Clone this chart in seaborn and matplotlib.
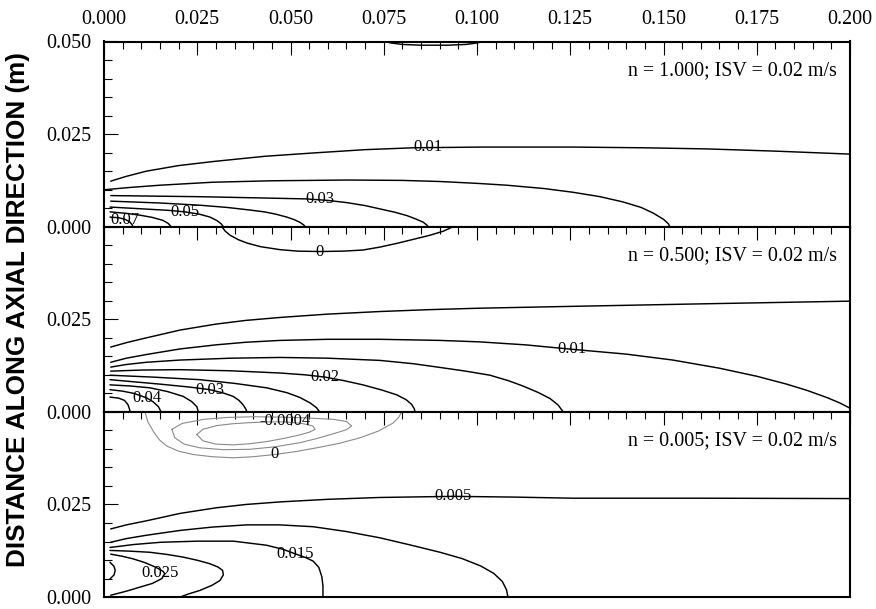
import matplotlib
matplotlib.use("Agg")
import matplotlib.pyplot as plt
import seaborn as sns
from matplotlib.ticker import MultipleLocator, FixedLocator, FixedFormatter

# ---------------- data ----------------
# Panel 1: n = 1.000
p1_c010_x = [0.0018, 0.0060, 0.0114, 0.0200, 0.0293, 0.0430, 0.0560, 0.0700, 0.0828, 0.1008, 0.1257, 0.1450, 0.1617, 0.1800, 0.2000]
p1_c010_y = [0.0123, 0.0136, 0.0150, 0.0165, 0.0176, 0.0190, 0.0199, 0.0208, 0.0213, 0.0215, 0.0215, 0.0213, 0.0210, 0.0204, 0.0196]
p1_c020_x = [0.0003, 0.0070, 0.0150, 0.0290, 0.0450, 0.0654, 0.0800, 0.0901, 0.1000, 0.1080, 0.1180, 0.1257, 0.1330, 0.1391, 0.1440, 0.1472, 0.1500, 0.1513, 0.1517]
p1_c020_y = [0.0100, 0.0106, 0.0112, 0.0120, 0.0124, 0.0126, 0.0125, 0.0122, 0.0117, 0.0112, 0.0103, 0.0093, 0.0081, 0.0067, 0.0052, 0.0037, 0.0020, 0.0008, 0.0000]
p1_c030_x = [0.0018, 0.0257, 0.0450, 0.0543, 0.0600, 0.0651, 0.0700, 0.0740, 0.0780, 0.0812, 0.0838, 0.0856, 0.0866, 0.0869]
p1_c030_y = [0.0084, 0.0081, 0.0077, 0.0075, 0.0071, 0.0065, 0.0057, 0.0048, 0.0039, 0.0030, 0.0020, 0.0012, 0.0004, 0.0000]
p1_c040_x = [0.0018, 0.0150, 0.0257, 0.0330, 0.0391, 0.0430, 0.0460, 0.0490, 0.0510, 0.0525, 0.0535, 0.0540]
p1_c040_y = [0.0069, 0.0064, 0.0058, 0.0052, 0.0045, 0.0040, 0.0034, 0.0026, 0.0019, 0.0012, 0.0005, 0.0000]
p1_c050_x = [0.0016, 0.0070, 0.0123, 0.0175, 0.0217, 0.0255, 0.0284, 0.0302, 0.0314, 0.0320]
p1_c050_y = [0.0053, 0.0050, 0.0047, 0.0044, 0.0040, 0.0034, 0.0026, 0.0017, 0.0008, 0.0000]
p1_c060_x = [0.0016, 0.0060, 0.0097, 0.0130, 0.0158, 0.0172, 0.0180]
p1_c060_y = [0.0040, 0.0036, 0.0031, 0.0025, 0.0017, 0.0009, 0.0000]
p1_c070_x = [0.0016, 0.0040, 0.0056, 0.0068, 0.0075, 0.0078]
p1_c070_y = [0.0026, 0.0024, 0.0020, 0.0014, 0.0006, 0.0000]
p1_c000_x = [0.0751, 0.0770, 0.0800, 0.0850, 0.0920, 0.0970, 0.1000, 0.1016]
p1_c000_y = [0.0500, 0.0496, 0.0492, 0.0490, 0.0490, 0.0492, 0.0496, 0.0500]
p1_labels = ["0.01", "0.03", "0.05", "0.07"]
p1_label_x = [0.0869, 0.0579, 0.0217, 0.0056]
p1_label_y = [0.0215, 0.0074, 0.0040, 0.0017]

# Panel 2: n = 0.500
p2_c000_x = [0.0316, 0.0325, 0.0338, 0.0360, 0.0383, 0.0420, 0.0472, 0.0520, 0.0579, 0.0640, 0.0694, 0.0740, 0.0785, 0.0830, 0.0874, 0.0910, 0.0936]
p2_c000_y = [0.0500, 0.0488, 0.0477, 0.0465, 0.0456, 0.0446, 0.0438, 0.0434, 0.0433, 0.0434, 0.0437, 0.0445, 0.0455, 0.0466, 0.0477, 0.0488, 0.0500]
p2_c005_x = [0.0018, 0.0060, 0.0114, 0.0204, 0.0300, 0.0380, 0.0472, 0.0600, 0.0740, 0.0870, 0.1008, 0.1257, 0.1617, 0.2000]
p2_c005_y = [0.0175, 0.0187, 0.0200, 0.0221, 0.0237, 0.0247, 0.0255, 0.0264, 0.0271, 0.0276, 0.0280, 0.0285, 0.0292, 0.0299]
p2_c010_x = [0.0018, 0.0060, 0.0114, 0.0204, 0.0300, 0.0380, 0.0472, 0.0600, 0.0740, 0.0901, 0.1008, 0.1130, 0.1255, 0.1400, 0.1525, 0.1650, 0.1751, 0.1830, 0.1885, 0.1940, 0.1973, 0.2000]
p2_c010_y = [0.0134, 0.0145, 0.0155, 0.0170, 0.0181, 0.0188, 0.0193, 0.0196, 0.0196, 0.0193, 0.0189, 0.0181, 0.0169, 0.0156, 0.0140, 0.0118, 0.0096, 0.0075, 0.0058, 0.0038, 0.0024, 0.0010]
p2_c015_x = [0.0018, 0.0060, 0.0114, 0.0204, 0.0340, 0.0472, 0.0600, 0.0740, 0.0830, 0.0901, 0.0970, 0.1035, 0.1085, 0.1123, 0.1165, 0.1196, 0.1218, 0.1231]
p2_c015_y = [0.0121, 0.0128, 0.0134, 0.0140, 0.0145, 0.0147, 0.0145, 0.0139, 0.0130, 0.0120, 0.0110, 0.0099, 0.0084, 0.0070, 0.0052, 0.0036, 0.0018, 0.0000]
p2_c020_x = [0.0018, 0.0100, 0.0204, 0.0340, 0.0472, 0.0540, 0.0592, 0.0645, 0.0694, 0.0745, 0.0785, 0.0810, 0.0825, 0.0832, 0.0834]
p2_c020_y = [0.0110, 0.0113, 0.0114, 0.0111, 0.0105, 0.0100, 0.0094, 0.0084, 0.0073, 0.0059, 0.0046, 0.0033, 0.0020, 0.0008, 0.0000]
p2_c025_x = [0.0016, 0.0130, 0.0257, 0.0350, 0.0436, 0.0490, 0.0525, 0.0553, 0.0570, 0.0578]
p2_c025_y = [0.0099, 0.0094, 0.0087, 0.0077, 0.0065, 0.0052, 0.0039, 0.0024, 0.0011, 0.0000]
p2_c030_x = [0.0016, 0.0150, 0.0230, 0.0284, 0.0320, 0.0346, 0.0362, 0.0373, 0.0380, 0.0383]
p2_c030_y = [0.0087, 0.0075, 0.0067, 0.0060, 0.0051, 0.0042, 0.0031, 0.0019, 0.0008, 0.0000]
p2_c035_x = [0.0016, 0.0070, 0.0123, 0.0170, 0.0212, 0.0235, 0.0249, 0.0253]
p2_c035_y = [0.0073, 0.0070, 0.0065, 0.0055, 0.0042, 0.0028, 0.0014, 0.0000]
p2_c040_x = [0.0016, 0.0050, 0.0080, 0.0114, 0.0132, 0.0146, 0.0153]
p2_c040_y = [0.0060, 0.0056, 0.0050, 0.0038, 0.0027, 0.0014, 0.0000]
p2_c045_x = [0.0016, 0.0040, 0.0055, 0.0064, 0.0068, 0.0070]
p2_c045_y = [0.0040, 0.0037, 0.0031, 0.0020, 0.0009, 0.0000]
p2_labels = ["0", "0.01", "0.02", "0.03", "0.04"]
p2_label_x = [0.0579, 0.1254, 0.0592, 0.0284, 0.0114]
p2_label_y = [0.0432, 0.0169, 0.0094, 0.0060, 0.0038]

# Panel 3: n = 0.005
p3_g000_x = [0.0110, 0.0118, 0.0132, 0.0148, 0.0168, 0.0200, 0.0239, 0.0290, 0.0346, 0.0400, 0.0458, 0.0515, 0.0570, 0.0630, 0.0686, 0.0735, 0.0775, 0.0790, 0.0798]
p3_g000_y = [0.0500, 0.0472, 0.0448, 0.0425, 0.0408, 0.0394, 0.0385, 0.0379, 0.0376, 0.0379, 0.0385, 0.0393, 0.0403, 0.0415, 0.0430, 0.0448, 0.0470, 0.0485, 0.0500]
p3_g002_x = [0.0182, 0.0210, 0.0268, 0.0330, 0.0402, 0.0470, 0.0536, 0.0615, 0.0650, 0.0664, 0.0650, 0.0615, 0.0570, 0.0526, 0.0460, 0.0391, 0.0320, 0.0257, 0.0215, 0.0190, 0.0182]
p3_g002_y = [0.0453, 0.0469, 0.0480, 0.0485, 0.0487, 0.0486, 0.0484, 0.0480, 0.0474, 0.0462, 0.0452, 0.0441, 0.0428, 0.0417, 0.0406, 0.0399, 0.0398, 0.0403, 0.0413, 0.0430, 0.0453]
p3_g004_x = [0.0249, 0.0265, 0.0302, 0.0345, 0.0391, 0.0440, 0.0485, 0.0530, 0.0560, 0.0566, 0.0550, 0.0525, 0.0485, 0.0437, 0.0390, 0.0347, 0.0300, 0.0265, 0.0249]
p3_g004_y = [0.0439, 0.0453, 0.0463, 0.0468, 0.0471, 0.0473, 0.0473, 0.0469, 0.0462, 0.0453, 0.0445, 0.0438, 0.0429, 0.0420, 0.0414, 0.0411, 0.0413, 0.0422, 0.0439]
p3_c005_x = [0.0018, 0.0060, 0.0114, 0.0204, 0.0300, 0.0380, 0.0472, 0.0600, 0.0740, 0.0936, 0.1100, 0.1257, 0.1617, 0.2000]
p3_c005_y = [0.0184, 0.0195, 0.0206, 0.0226, 0.0241, 0.0250, 0.0257, 0.0264, 0.0269, 0.0272, 0.0270, 0.0267, 0.0267, 0.0266]
p3_c010_x = [0.0018, 0.0060, 0.0114, 0.0204, 0.0290, 0.0383, 0.0470, 0.0561, 0.0650, 0.0740, 0.0820, 0.0901, 0.0960, 0.1010, 0.1045, 0.1068, 0.1079, 0.1083]
p3_c010_y = [0.0148, 0.0158, 0.0167, 0.0180, 0.0189, 0.0195, 0.0195, 0.0190, 0.0177, 0.0160, 0.0141, 0.0121, 0.0104, 0.0084, 0.0064, 0.0042, 0.0020, 0.0000]
p3_c015_x = [0.0016, 0.0080, 0.0152, 0.0250, 0.0347, 0.0436, 0.0480, 0.0512, 0.0540, 0.0561, 0.0576, 0.0584, 0.0587, 0.0587]
p3_c015_y = [0.0134, 0.0142, 0.0148, 0.0151, 0.0151, 0.0140, 0.0129, 0.0117, 0.0107, 0.0097, 0.0080, 0.0055, 0.0030, 0.0000]
p3_c020_x = [0.0016, 0.0070, 0.0123, 0.0170, 0.0212, 0.0252, 0.0284, 0.0306, 0.0318, 0.0320, 0.0311, 0.0290, 0.0257, 0.0225, 0.0204]
p3_c020_y = [0.0126, 0.0124, 0.0121, 0.0115, 0.0108, 0.0099, 0.0090, 0.0081, 0.0072, 0.0060, 0.0045, 0.0032, 0.0018, 0.0008, 0.0000]
p3_c025_x = [0.0018, 0.0050, 0.0079, 0.0110, 0.0140, 0.0158, 0.0163, 0.0155, 0.0130, 0.0100, 0.0060, 0.0018]
p3_c025_y = [0.0116, 0.0110, 0.0103, 0.0093, 0.0080, 0.0070, 0.0063, 0.0050, 0.0037, 0.0028, 0.0016, 0.0005]
p3_c030_x = [0.0016, 0.0027, 0.0030, 0.0027, 0.0016]
p3_c030_y = [0.0094, 0.0083, 0.0072, 0.0060, 0.0049]
p3_labels = ["-0.0004", "0", "0.005", "0.015", "0.025"]
p3_label_x = [0.0485, 0.0458, 0.0936, 0.0512, 0.0150]
p3_label_y = [0.0475, 0.0385, 0.0273, 0.0116, 0.0065]

panel_titles = ["n = 1.000; ISV = 0.02 m/s", "n = 0.500; ISV = 0.02 m/s", "n = 0.005; ISV = 0.02 m/s"]
x_ticks = [0.000, 0.025, 0.050, 0.075, 0.100, 0.125, 0.150, 0.175, 0.200]
y_ticks = [0.000, 0.025, 0.050]
y_label = "DISTANCE ALONG AXIAL DIRECTION (m)"

# ---------------- drawing ----------------
sns.set_style("white")
plt.rcParams["font.family"] = ["Liberation Serif", "DejaVu Serif"]
plt.rcParams["text.color"] = "black"
plt.rcParams["axes.labelcolor"] = "black"
plt.rcParams["xtick.color"] = "black"
plt.rcParams["ytick.color"] = "black"

W, H = 876, 609
fig = plt.figure(figsize=(W / 100, H / 100), dpi=100)

panels = [
    ([(p1_c010_x, p1_c010_y), (p1_c020_x, p1_c020_y), (p1_c030_x, p1_c030_y), (p1_c040_x, p1_c040_y),
      (p1_c050_x, p1_c050_y), (p1_c060_x, p1_c060_y), (p1_c070_x, p1_c070_y), (p1_c000_x, p1_c000_y)],
     [], (p1_labels, p1_label_x, p1_label_y)),
    ([(p2_c000_x, p2_c000_y), (p2_c005_x, p2_c005_y), (p2_c010_x, p2_c010_y), (p2_c015_x, p2_c015_y),
      (p2_c020_x, p2_c020_y), (p2_c025_x, p2_c025_y), (p2_c030_x, p2_c030_y), (p2_c035_x, p2_c035_y),
      (p2_c040_x, p2_c040_y), (p2_c045_x, p2_c045_y)],
     [], (p2_labels, p2_label_x, p2_label_y)),
    ([(p3_c005_x, p3_c005_y), (p3_c010_x, p3_c010_y), (p3_c015_x, p3_c015_y), (p3_c020_x, p3_c020_y),
      (p3_c025_x, p3_c025_y), (p3_c030_x, p3_c030_y)],
     [(p3_g000_x, p3_g000_y), (p3_g002_x, p3_g002_y), (p3_g004_x, p3_g004_y)],
     (p3_labels, p3_label_x, p3_label_y)),
]

left_px, right_px = 104, 850
top0 = 41.5
ph = 185.2

for i, (black_lines, gray_lines, labels) in enumerate(panels):
    top = top0 + i * ph
    ax = fig.add_axes([left_px / W, 1 - (top + ph) / H, (right_px - left_px) / W, ph / H])
    for xs, ys in gray_lines:
        sns.lineplot(x=xs, y=ys, sort=False, estimator=None, color="#8a8a8a", linewidth=0.8, ax=ax, legend=False)
    for xs, ys in black_lines:
        sns.lineplot(x=xs, y=ys, sort=False, estimator=None, color="black", linewidth=1.05, ax=ax, legend=False)
    for s, lx, ly in zip(*labels):
        ax.text(lx, ly, s, ha="center", va="center", fontsize=12, color="black", zorder=5)
    ax.text(0.1965, 0.0422, panel_titles[i], ha="right", va="center", fontsize=14.4)

    ax.set_xlim(0, 0.2)
    ax.set_ylim(0, 0.05)
    ax.set_xlabel("")
    ax.set_ylabel("")
    ax.xaxis.set_major_locator(FixedLocator(x_ticks))
    ax.xaxis.set_minor_locator(MultipleLocator(0.005))
    ax.xaxis.set_major_formatter(FixedFormatter([f"{v:.3f}" for v in x_ticks]))
    ax.yaxis.set_major_locator(FixedLocator(y_ticks))
    ax.yaxis.set_minor_locator(MultipleLocator(0.005))
    ylabs = [f"{v:.3f}" for v in y_ticks]
    if i > 0:
        ylabs[-1] = ""
    ax.yaxis.set_major_formatter(FixedFormatter(ylabs))
    ax.tick_params(axis="x", which="both", direction="in", top=True, bottom=False,
                   labeltop=(i == 0), labelbottom=False, labelsize=14.4, pad=9, width=0.8)
    ax.tick_params(axis="x", which="major", length=9.5)
    ax.tick_params(axis="x", which="minor", length=5)
    ax.tick_params(axis="y", which="both", direction="in", left=True, right=False,
                   labelsize=14.4, pad=9, width=0.8)
    ax.tick_params(axis="y", which="major", length=10)
    ax.tick_params(axis="y", which="minor", length=5.5)
    for sp in ax.spines.values():
        sp.set_visible(True)
        sp.set_color("black")
        sp.set_linewidth(1.5)

fig.text(18 / W, 1 - 310 / H, y_label, rotation=90, ha="center", va="center",
         fontsize=18.8, fontweight="bold", family=["Liberation Sans", "DejaVu Sans"])

fig.savefig("out.png", dpi=100)
